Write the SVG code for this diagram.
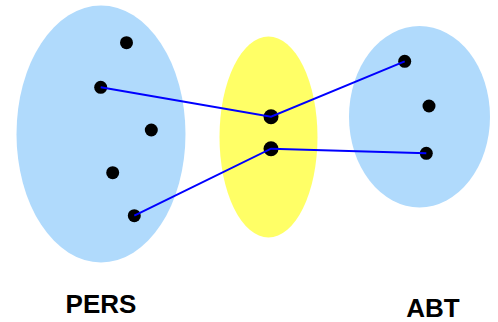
<svg xmlns="http://www.w3.org/2000/svg" width="498" height="322" viewBox="0 0 498 322">
<style>
.set{fill:#b0dafc}
.mid{fill:#ffff66}
.dot{fill:#000}
.ln{stroke:#0000ff;stroke-width:2;fill:none}
.lbl{font-family:"Liberation Sans",Arial,sans-serif;font-weight:bold;font-size:26px;fill:#000;text-anchor:middle}
</style>
<g id="pers">
<ellipse class="set" cx="101" cy="134" rx="84.5" ry="128.5"/>
<circle class="dot" cx="126.5" cy="42.7" r="6.5"/>
<circle class="dot" cx="100.7" cy="87.3" r="6.5"/>
<circle class="dot" cx="151.3" cy="130" r="6.5"/>
<circle class="dot" cx="112.7" cy="172.7" r="6.5"/>
<circle class="dot" cx="134.3" cy="215.7" r="6.5"/>
<text class="lbl" x="101" y="313">PERS</text>
</g>
<g id="middle">
<ellipse class="mid" cx="268.5" cy="137" rx="49" ry="100.5"/>
<circle class="dot" cx="271" cy="116.7" r="7.5"/>
<circle class="dot" cx="271" cy="148.7" r="7.5"/>
</g>
<g id="abt">
<ellipse class="set" cx="419.5" cy="116.7" rx="70.5" ry="90.7"/>
<circle class="dot" cx="404.7" cy="61.3" r="6.5"/>
<circle class="dot" cx="429" cy="106" r="6.5"/>
<circle class="dot" cx="426.3" cy="153.3" r="6.5"/>
<text class="lbl" x="433" y="317">ABT</text>
</g>
<g id="connectors">
<polyline class="ln" points="100.7,87.3 271,116.7 404.7,61.3"/>
<polyline class="ln" points="134.3,215.7 271,148.7 426.3,153.3"/>
</g>
</svg>
